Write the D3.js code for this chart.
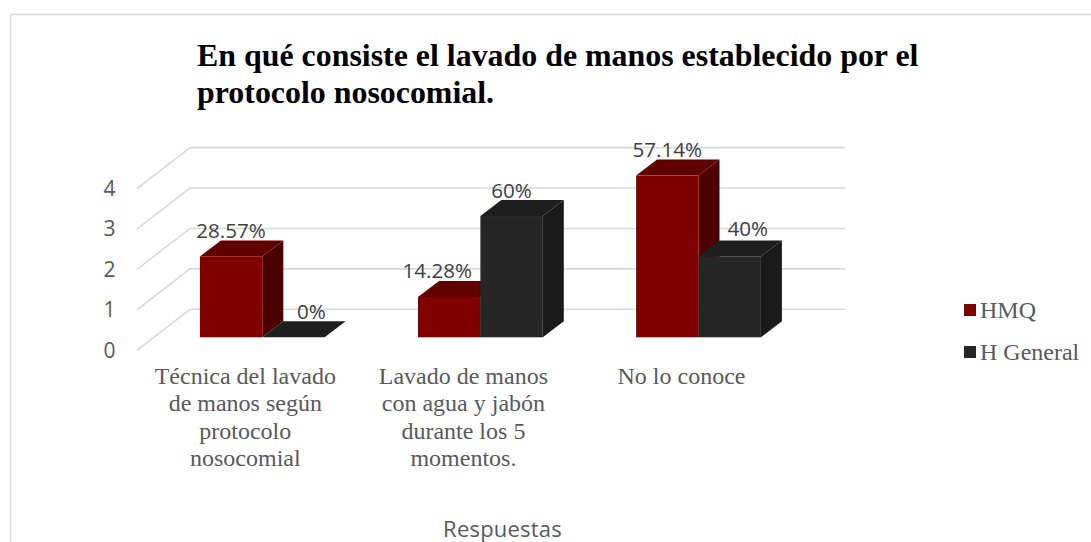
<!DOCTYPE html>
<html lang="es">
<head>
<meta charset="utf-8">
<title>Lavado de manos</title>
<script src="https://cdn.jsdelivr.net/npm/d3@7"></script>
<style>
  html, body { margin: 0; padding: 0; background: #fff; }
  svg { display: block; }
  .serif { font-family: "Liberation Serif", serif; }
  .sans { font-family: "Open Sans", sans-serif; }
</style>
</head>
<body>
<svg id="chart" width="1091" height="542"></svg>
<script>
// Chart content
const titleLines = ["En qué consiste el lavado de manos establecido por el", "protocolo nosocomial."];
const categories = ["tecnica", "lavado", "desconoce"];
const categoryLines = [
  ["Técnica del lavado", "de manos según", "protocolo", "nosocomial"],
  ["Lavado de manos", "con agua y jabón", "durante los 5", "momentos."],
  ["No lo conoce"]
];
const seriesNames = ["HMQ", "H General"];
const hmqCounts = [2, 1, 4];
const generalCounts = [0, 3, 2];
const hmqLabels = ["28.57%", "14.28%", "57.14%"];
const generalLabels = ["0%", "60%", "40%"];
const axisTicks = [0, 1, 2, 3, 4];
const axisTitle = "Respuestas";

// Colours per series: front, top and side faces
const faces = [
  { front: "#800000", top: "#600000", side: "#4d0000" },
  { front: "#262626", top: "#1e1e1e", side: "#1a1a1a" }
];

// Projection of the box: how far the depth axis shifts a point
const barDepth = { dx: 21, dy: -16 };
const floorFront = { dx: -53, dy: 13 };
const floorBack = { dx: 0, dy: -28 };
const barWidth = 62.4;

const y = d3.scaleLinear().domain([0, 4]).range([337.3, 175.6]);
const x = d3.scalePoint().domain(categories).range([262.3, 698.5]);

const svg = d3.select("#chart");

// Outer chart frame
svg.append("path")
  .attr("d", "M10.5,542V14.5H1091")
  .attr("fill", "none").attr("stroke", "#dcdcdc").attr("stroke-width", 1.5);

// Title
svg.append("text").attr("class", "serif")
  .attr("font-weight", "bold").attr("font-size", 31.9).attr("fill", "#000")
  .selectAll("tspan").data(titleLines).join("tspan")
  .attr("x", 197).attr("y", (d, i) => 66 + i * 36.5)
  .text(d => d);

// Gridlines: side wall plus back wall
const wallLeft = 190, wallRight = 845;
svg.append("g").selectAll("path").data(axisTicks).join("path")
  .attr("d", d => {
    const yb = y(d) + floorBack.dy;
    const yf = y(d) + floorFront.dy;
    return `M${wallLeft + floorFront.dx},${yf}L${wallLeft},${yb}H${wallRight}`;
  })
  .attr("fill", "none").attr("stroke", "#d9d9d9").attr("stroke-width", 1.6);

// Value axis sits at the front edge of the floor
const axis = d3.axisLeft(y).tickValues(axisTicks).tickSize(0).tickPadding(0).tickFormat(d3.format("d"));
const axisG = svg.append("g").attr("transform", `translate(115.5,${floorFront.dy})`).call(axis);
axisG.select(".domain").remove();
axisG.selectAll("text").attr("class", "sans")
  .attr("font-size", 21).attr("font-family", null).attr("fill", "#595959");

// Extruded bars: series drawn in order so later faces overlap earlier sides
const rows = categories.map((c, i) => [
  { c, s: 0, v: hmqCounts[i], label: hmqLabels[i] },
  { c, s: 1, v: generalCounts[i], label: generalLabels[i] }
]).flat();

const barX = d => x(d.c) + (d.s - 1) * barWidth;
const bars = svg.append("g").selectAll("g").data(rows).join("g");

bars.append("path") // side face
  .attr("d", d => {
    const x1 = barX(d) + barWidth, y0 = y(0), yt = y(d.v);
    return `M${x1},${y0}L${x1 + barDepth.dx},${y0 + barDepth.dy}L${x1 + barDepth.dx},${yt + barDepth.dy}L${x1},${yt}Z`;
  })
  .attr("fill", d => faces[d.s].side);

bars.append("path") // top face
  .attr("d", d => {
    const x0 = barX(d), yt = y(d.v);
    return `M${x0},${yt}L${x0 + barDepth.dx},${yt + barDepth.dy}h${barWidth}L${x0 + barWidth},${yt}Z`;
  })
  .attr("fill", d => faces[d.s].top);

bars.append("rect") // front face
  .attr("x", barX)
  .attr("y", d => y(d.v))
  .attr("width", barWidth)
  .attr("height", d => y(0) - y(d.v))
  .attr("fill", d => faces[d.s].front);

// Value labels, nudged off the neighbouring bars
const nudge = { "0%": [18, 0], "14.28%": [-12, 0], "40%": [18, -2] };
svg.append("g").selectAll("text").data(rows).join("text")
  .attr("class", "sans")
  .attr("text-anchor", "middle")
  .attr("font-size", 20.6).attr("fill", "#404040")
  .attr("x", d => barX(d) + barWidth / 2 + (nudge[d.label] ? nudge[d.label][0] : 0))
  .attr("y", d => y(d.v) - 18.5 + (nudge[d.label] ? nudge[d.label][1] : 0))
  .text(d => d.label);

// Category labels
const catG = svg.append("g").selectAll("text").data(categories).join("text")
  .attr("class", "serif")
  .attr("text-anchor", "middle")
  .attr("font-size", 24).attr("fill", "#595959");
catG.selectAll("tspan").data((d, i) => categoryLines[i].map(t => ({ t, c: d }))).join("tspan")
  .attr("x", d => x(d.c) - 17)
  .attr("y", (d, i) => 384 + i * 27.3)
  .text(d => d.t);

// Axis title
svg.append("text").attr("class", "sans")
  .attr("x", 502.5).attr("y", 536.5).attr("text-anchor", "middle")
  .attr("font-size", 22).attr("letter-spacing", 0.2).attr("fill", "#595959")
  .text(axisTitle);

// Legend
const legend = svg.append("g").selectAll("g").data(seriesNames).join("g")
  .attr("transform", (d, i) => `translate(964,${304 + i * 42})`);
legend.append("rect").attr("width", 12).attr("height", 12)
  .attr("fill", (d, i) => faces[i].front);
legend.append("text").attr("class", "serif")
  .attr("x", 16).attr("y", 14)
  .attr("font-size", 24).attr("fill", "#595959")
  .text(d => d);
</script>
</body>
</html>
